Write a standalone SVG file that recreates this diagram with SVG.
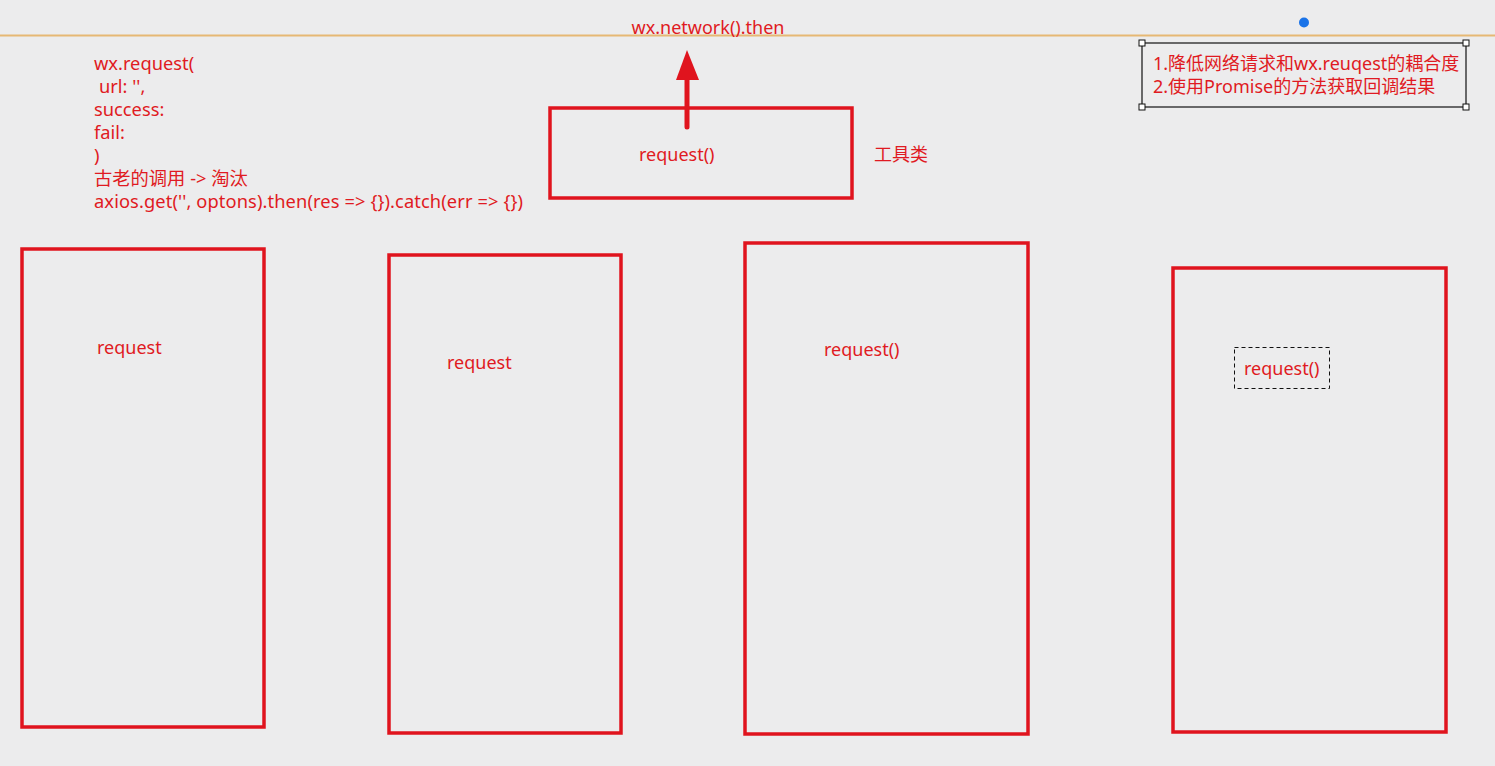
<svg xmlns="http://www.w3.org/2000/svg" width="1495" height="766" viewBox="0 0 1495 766">
<defs>
<style>
.t{font-family:"Noto Sans","Noto Sans CJK SC",sans-serif;font-size:18px;fill:#e01a22}
.c{font-size:18.3px}
.box{fill:none;stroke:#e0141e;stroke-width:3.5}
.h{fill:#fff;stroke:#111;stroke-width:1}
</style>
</defs>
<rect width="1495" height="766" fill="#ececed"/>
<line x1="0" y1="35.5" x2="1495" y2="35.5" stroke="#e6b874" stroke-width="2"/>
<circle cx="1304" cy="22.5" r="5" fill="#1a73e8"/>
<g id="connectors">
<line x1="687" y1="127" x2="687" y2="78" stroke="#e0141e" stroke-width="5" stroke-linecap="round"/>
<path d="M676,80L687,50L699,80z" fill="#e0141e"/>
</g>
<g id="title"><text class="t" x="708" y="34" text-anchor="middle">wx.network().then</text></g>
<g id="code">
<text class="t c" x="94" y="70">wx.request(</text>
<text class="t c" x="99" y="93">url: '',</text>
<text class="t c" x="94" y="116">success:</text>
<text class="t c" x="94" y="139">fail:</text>
<text class="t c" x="94" y="162">)</text>
<text class="t c" x="94" y="185">古老的调用 -&gt; 淘汰</text>
<text class="t c" x="94" y="208" textLength="429">axios.get('', optons).then(res =&gt; {}).catch(err =&gt; {})</text>
</g>
<g id="tool">
<rect class="box" x="550" y="108" width="302" height="90"/>
<text class="t" x="639" y="161">request()</text>
</g>
<g id="toollabel"><text class="t" x="874" y="161">工具类</text></g>
<g id="note">
<rect x="1142" y="43" width="324" height="64" fill="none" stroke="#111" stroke-width="1.2"/>
<rect class="h" x="1139" y="40" width="6" height="6"/>
<rect class="h" x="1463" y="40" width="6" height="6"/>
<rect class="h" x="1139" y="104" width="6" height="6"/>
<rect class="h" x="1463" y="104" width="6" height="6"/>
<text class="t" x="1153" y="70">1.降低网络请求和wx.reuqest的耦合度</text>
<text class="t" x="1153" y="93">2.使用Promise的方法获取回调结果</text>
</g>
<g id="page1">
<rect class="box" x="22" y="249" width="242" height="478"/>
<text class="t" x="97" y="354">request</text>
</g>
<g id="page2">
<rect class="box" x="389" y="255" width="232" height="478"/>
<text class="t" x="447" y="369">request</text>
</g>
<g id="page3">
<rect class="box" x="745" y="243" width="283" height="491"/>
<text class="t" x="824" y="356">request()</text>
</g>
<g id="page4">
<rect class="box" x="1173" y="268" width="273" height="464"/>
<rect x="1234.5" y="347.5" width="95" height="41" fill="none" stroke="#111" stroke-width="1" stroke-dasharray="4,3"/>
<text class="t" x="1244" y="375">request()</text>
</g>
</svg>
